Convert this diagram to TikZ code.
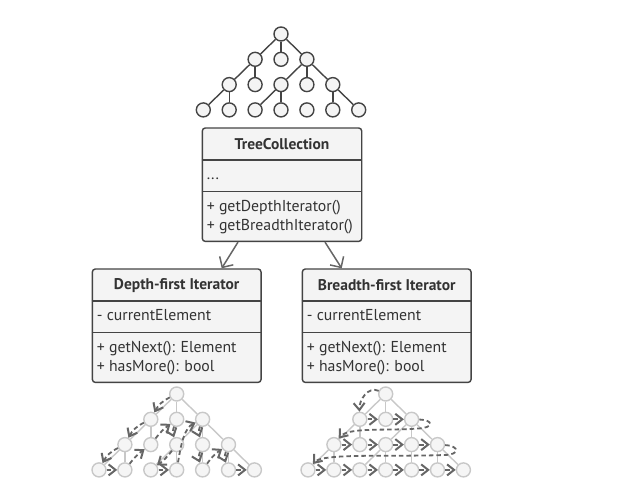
\documentclass[tikz,border=0pt]{standalone}
\usepackage{fontspec}
\setmainfont{PT Sans}
\usetikzlibrary{arrows.meta,calc}
\definecolor{dk}{HTML}{444444}
\definecolor{tx}{HTML}{333333}
\definecolor{boxfill}{HTML}{F4F4F4}
\definecolor{lt}{HTML}{C8C8C8}
\definecolor{ltfill}{HTML}{F5F5F5}
\definecolor{tr}{HTML}{666666}
\tikzset{
  tnode/.style={circle, draw=dk, fill=boxfill, line width=1.4pt, minimum size=14pt, inner sep=0pt},
  lnode/.style={circle, draw=lt, fill=ltfill, line width=1.4pt, minimum size=14pt, inner sep=0pt},
  tedge/.style={draw=dk, line width=1.4pt},
  ledge/.style={draw=lt, line width=1.4pt},
  trav/.style={draw=tr, line width=1.8pt, dash pattern=on 4.5pt off 3pt,
    -{Straight Barb[length=7pt,width=11pt,line width=2pt]}},
  conn/.style={draw=tr, line width=1.5pt, -{Straight Barb[length=8pt,width=16pt,line width=1.5pt]}},
  box/.style={draw=dk, fill=boxfill, line width=1.4pt, rounded corners=3pt, minimum height=113.4pt, inner sep=0pt},
  boxtitle/.style={text=tx, font=\fontsize{15.5}{17}\selectfont\bfseries, inner sep=0pt},
  boxtext/.style={text=tx, font=\fontsize{15.8}{17}\selectfont, inner sep=0pt, text height=10.5pt, text depth=3.5pt, anchor=west},
}
\newcommand\mytreenodes[1]{%
  \node[#1] (13) at (3*25.9,0) {};
  \foreach \k in {2,3,4} {\node[#1] (2\k) at (\k*25.9,-25.3) {};}
  \foreach \k in {1,...,5} {\node[#1] (3\k) at (\k*25.9,-50.6) {};}
  \foreach \k in {0,...,6} {\node[#1] (4\k) at (\k*25.9,-75.9) {};}
}
\newcommand\mytreeedges[1]{%
  \foreach \a/\b in {13/22,13/23,13/24,22/31,22/32,24/33,24/34,24/35,31/40,31/41,33/42,33/43,35/45,35/46}
    {\draw[#1] (\a) -- (\b);}
}
\newcommand\umlbox[8]{%
  \node[box, minimum width=#4pt, anchor=north] (#1) at (#2,-#3) {};
  \draw[dk, line width=1.4pt] ($(#1.north west)+(0,-32.5)$) -- ($(#1.north east)+(0,-32.5)$);
  \draw[dk, line width=1.4pt] ($(#1.north west)+(0,-64)$) -- ($(#1.north east)+(0,-64)$);
  \node[boxtitle] (#1-t) at ($(#1.north)+(0,-17)$) {#5};
  \node[boxtext] (#1-a) at ($(#1.north west)+(5,-49)$) {#6};
  \node[boxtext] (#1-m) at ($(#1.north west)+(5,-80.5)$) {#7};
  \node[boxtext] (#1-n) at ($(#1.north west)+(5,-99.5)$) {#8};
}
\begin{document}
\begin{tikzpicture}[x=1pt,y=1pt]
\useasboundingbox[fill=white] (0,0) rectangle (631,-493);

% top tree
\begin{scope}[shift={(203.3,-34)}, name prefix=t-]
  \mytreenodes{tnode}
\end{scope}
\begin{scope}[name prefix=t-]
  \mytreeedges{tedge}
\end{scope}

% depth tree
\begin{scope}[shift={(99,-394)}, name prefix=d-]
  \mytreenodes{lnode}
\end{scope}
\begin{scope}[name prefix=d-]
  \mytreeedges{ledge}
  \draw[ledge] (34) -- (44);
\end{scope}

% breadth tree
\begin{scope}[shift={(308,-394)}, name prefix=b-]
  \mytreenodes{lnode}
\end{scope}
\begin{scope}[name prefix=b-]
  \mytreeedges{ledge}
  \draw[ledge] (34) -- (44);
\end{scope}

% boxes
\umlbox{tc}{282}{127.3}{159.4}{TreeCollection}{...}{+ getDepthIterator()}{+ getBreadthIterator()}
\umlbox{df}{176.7}{268.3}{168.7}{Depth-first Iterator}{- currentElement}{+ getNext(): Element}{+ hasMore(): bool}
\umlbox{bf}{386.7}{268.3}{168.7}{Breadth-first Iterator}{- currentElement}{+ getNext(): Element}{+ hasMore(): bool}

\draw[conn] ([xshift=-44pt]tc.south) -- ([xshift=45pt]df.north);
\draw[conn] ([xshift=43pt]tc.south) -- ([xshift=-45pt]bf.north);

% depth-first traversal
\draw[trav] (d-13) to[bend right=18] (d-22);
\draw[trav] (d-22) to[bend right=18] (d-31);
\draw[trav] (d-31) to[bend right=18] (d-40);
\draw[trav] (d-40) -- (d-41);
\draw[trav] (d-41) to[bend left=8] (d-32);
\draw[trav] (d-32) to[bend left=8] (d-23);
\draw[trav] (d-23) to[bend right=20] (d-33);
\draw[trav] (d-33) to[bend left=8] (d-42);
\draw[trav] (d-42) -- (d-43);
\draw[trav] (d-43) .. controls (181,-445) and (184,-428) .. (d-24);
\draw[trav] (d-24) to[bend right=20] (d-34);
\draw[trav] (d-34) to[bend right=20] (d-44);
\draw[trav] (d-44) to[bend left=10] (d-35);
\draw[trav] (d-35) to[bend right=20] (d-45);
\draw[trav] (d-45) -- (d-46);

% breadth-first traversal
\draw[trav] (b-13) .. controls (368,-386) and (359,-400) .. (b-22);
\draw[trav] (b-22) -- (b-23);
\draw[trav] (b-23) -- (b-24);
\draw[trav] (b-24) .. controls (434,-420) and (434,-428) .. (418,-428.5) .. controls (385,-431) and (348,-427) .. (b-31);
\draw[trav] (b-31) -- (b-32);
\draw[trav] (b-32) -- (b-33);
\draw[trav] (b-33) -- (b-34);
\draw[trav] (b-34) -- (b-35);
\draw[trav] (b-35) .. controls (460,-446) and (460,-455) .. (444,-455) .. controls (390,-457) and (322,-453) .. (b-40);
\draw[trav] (b-40) -- (b-41);
\draw[trav] (b-41) -- (b-42);
\draw[trav] (b-42) -- (b-43);
\draw[trav] (b-43) -- (b-44);
\draw[trav] (b-44) -- (b-45);
\draw[trav] (b-45) -- (b-46);
\end{tikzpicture}
\end{document}
